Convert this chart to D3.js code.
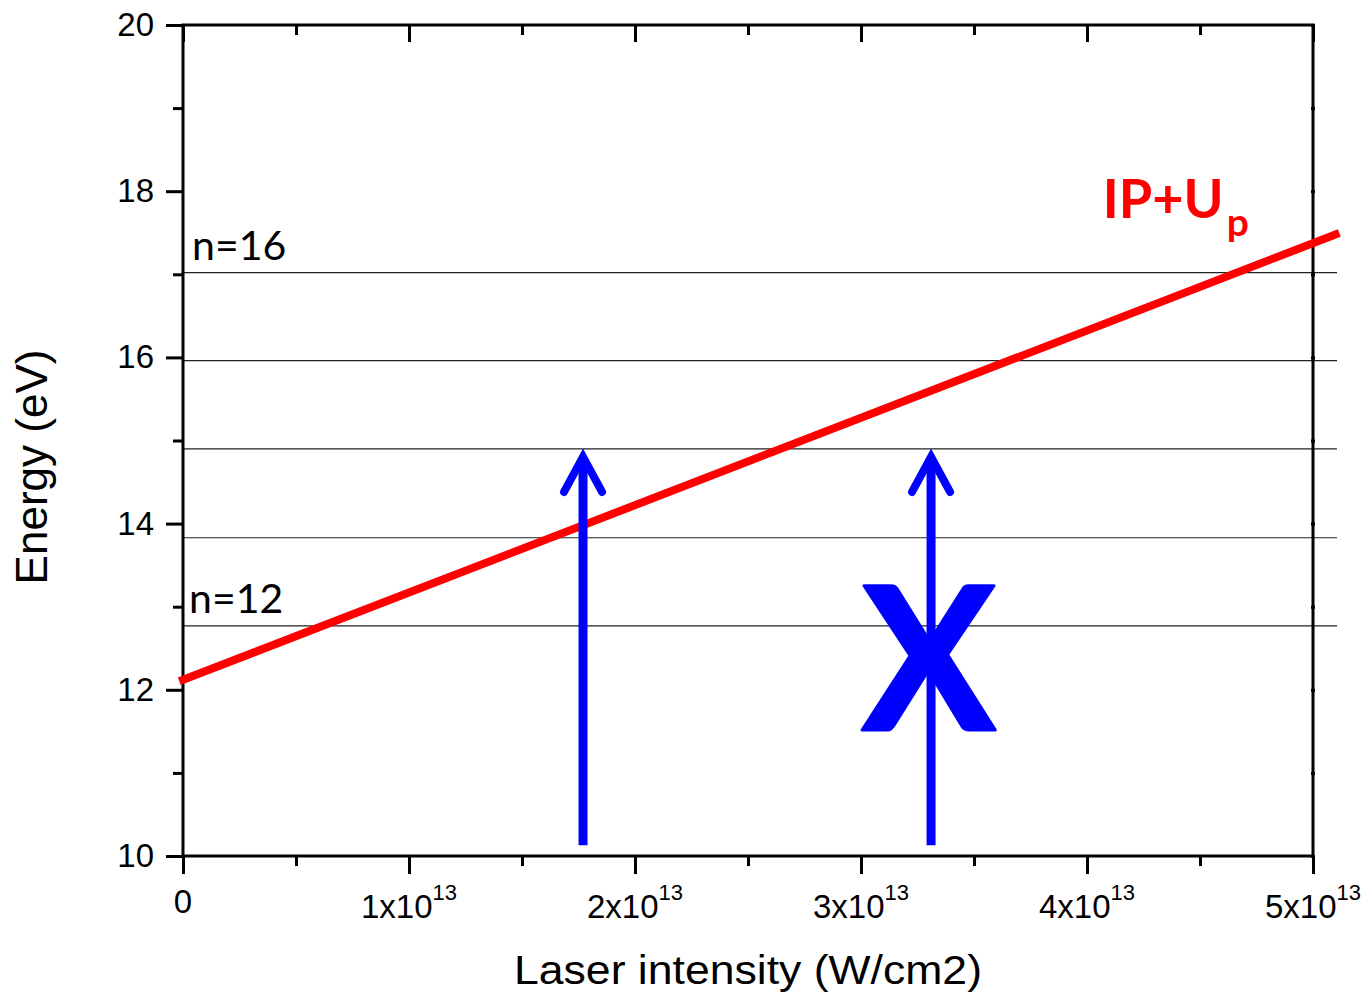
<!DOCTYPE html>
<html><head><meta charset="utf-8">
<script src="https://cdn.jsdelivr.net/npm/d3@7"></script>
<style>body{margin:0;background:#fff}svg{display:block}</style>
</head><body>
<svg id="chart" width="1370" height="1000"></svg>
<script>
// ---- data ----
const xMajorTicks = [0, 1e13, 2e13, 3e13, 4e13, 5e13];
const xMinorTicks = [0.5e13, 1.5e13, 2.5e13, 3.5e13, 4.5e13];
const xTickMantissa = ["0", "1", "2", "3", "4", "5"];
const xTickExponent = "13";
const yMajorTicks = [10, 12, 14, 16, 18, 20];
const yMinorTicks = [11, 13, 15, 17, 19];
const harmonicOrders = [12, 13, 14, 15, 16];
const harmonicEnergies = [12.77, 13.83, 14.90, 15.96, 17.02];
const harmonicLabelOrders = [12, 16];
const ipUpIntensity = [0, 5.1e13];
const ipUpEnergy = [12.12, 17.48];
const arrowIntensity = [1.77e13, 3.31e13];
const arrowEnergyFrom = 10.13;
const arrowEnergyTo = 14.85;
const blockedArrowIntensity = 3.30e13;
const blockedMarkEnergy = 11.52;
const ipUpLabelPos = [4.07e13, 17.68];

// ---- layout ----
const svg = d3.select("#chart");
const L = 183, T = 25, W = 1130, H = 831;
const x = d3.scaleLinear().domain([0, 5e13]).range([L, L + W]);
const y = d3.scaleLinear().domain([10, 20]).range([T + H, T]);
const axisFont = "'Liberation Sans', Arial, sans-serif";
const textFont = "Lato, 'Open Sans', sans-serif";

// harmonic lines
svg.append("g").selectAll("line").data(harmonicEnergies).join("line")
  .attr("x1", x(0)).attr("x2", x(0) + 1154)
  .attr("y1", d => y(d)).attr("y2", d => y(d))
  .attr("stroke", "#222").attr("stroke-width", 1.2);

// harmonic labels
svg.append("g").selectAll("text").data(harmonicLabelOrders).join("text")
  .attr("x", (d, i) => x(0) + (d === 16 ? 9 : 6))
  .attr("y", d => y(harmonicEnergies[harmonicOrders.indexOf(d)]) - 13)
  .attr("font-family", textFont).attr("font-size", 41).attr("fill", "#000")
  .text(d => "n=" + d);

// axes
function styleAxis(g) {
  g.select(".domain").remove();
  g.selectAll(".tick line").attr("stroke", "#000").attr("stroke-width", 3);
  g.selectAll(".tick text").remove();
}
svg.append("g").attr("transform", `translate(0,${T + H})`)
  .call(d3.axisBottom(x).tickValues(xMajorTicks).tickSize(18).tickFormat("")).call(styleAxis);
svg.append("g").attr("transform", `translate(0,${T + H})`)
  .call(d3.axisBottom(x).tickValues(xMinorTicks).tickSize(10).tickFormat("")).call(styleAxis);
svg.append("g").attr("transform", `translate(0,${T})`)
  .call(d3.axisBottom(x).tickValues(xMajorTicks).tickSize(17).tickFormat("")).call(styleAxis);
svg.append("g").attr("transform", `translate(0,${T})`)
  .call(d3.axisBottom(x).tickValues(xMinorTicks).tickSize(10).tickFormat("")).call(styleAxis);
svg.append("g").attr("transform", `translate(${L},0)`)
  .call(d3.axisLeft(y).tickValues(yMajorTicks).tickSize(17).tickFormat("")).call(styleAxis);
svg.append("g").attr("transform", `translate(${L},0)`)
  .call(d3.axisLeft(y).tickValues(yMinorTicks).tickSize(10).tickFormat("")).call(styleAxis);
svg.append("g").attr("transform", `translate(${L + W + 2},0)`)
  .call(d3.axisLeft(y).tickValues(yMajorTicks.concat(yMinorTicks)).tickSize(4).tickFormat("")).call(styleAxis);

// frame
svg.append("rect").attr("x", L).attr("y", T).attr("width", W).attr("height", H)
  .attr("fill", "none").attr("stroke", "#000").attr("stroke-width", 3);

// y tick labels
svg.append("g").selectAll("text").data(yMajorTicks).join("text")
  .attr("x", L - 29).attr("y", d => y(d) + 11)
  .attr("text-anchor", "end").attr("font-family", axisFont).attr("font-size", 33)
  .text(d => d);

// x tick labels
const xl = svg.append("g").selectAll("text").data(xMajorTicks).join("text")
  .attr("x", d => x(d)).attr("y", (d, i) => i === 0 ? T + H + 57 : T + H + 62)
  .attr("text-anchor", "middle").attr("font-family", axisFont).attr("font-size", 33);
xl.each(function (d, i) {
  const t = d3.select(this);
  if (i === 0) { t.text(xTickMantissa[i]); return; }
  t.append("tspan").text(xTickMantissa[i] + "x10");
  t.append("tspan").attr("dy", -18).attr("font-size", 22).text(xTickExponent);
});

// axis titles
svg.append("text").attr("x", 748).attr("y", 984)
  .attr("text-anchor", "middle").attr("font-family", axisFont).attr("font-size", 40)
  .attr("textLength", 468).attr("lengthAdjust", "spacingAndGlyphs")
  .text("Laser intensity (W/cm2)");
svg.append("text").attr("transform", "translate(47,467) rotate(-90)")
  .attr("text-anchor", "middle").attr("font-family", axisFont).attr("font-size", 44)
  .text("Energy (eV)");

// IP+Up line
const line = d3.line().x(d => x(d[0])).y(d => y(d[1]));
svg.append("path").datum(ipUpIntensity.map((v, i) => [v, ipUpEnergy[i]]))
  .attr("d", line).attr("fill", "none").attr("stroke", "#ff0000")
  .attr("stroke-width", 8).attr("stroke-linecap", "square");

// IP+Up label
const lab = svg.append("text").attr("x", x(ipUpLabelPos[0])).attr("y", y(ipUpLabelPos[1]))
  .attr("font-family", textFont).attr("font-weight", "bold").attr("font-size", 54)
  .attr("fill", "#ff0000");
lab.append("tspan").text("IP+U");
lab.append("tspan").attr("dx", 3).attr("dy", 18).attr("font-size", 39).text("p");

// arrows
const ag = svg.append("g").attr("stroke", "#0000ff").attr("fill", "none");
ag.selectAll("line").data(arrowIntensity).join("line")
  .attr("x1", d => x(d)).attr("x2", d => x(d))
  .attr("y1", y(arrowEnergyFrom)).attr("y2", y(arrowEnergyTo) + 6)
  .attr("stroke-width", 9);
ag.selectAll("path").data(arrowIntensity).join("path")
  .attr("d", d => `M${x(d) - 19},${y(arrowEnergyTo) + 39} L${x(d)},${y(arrowEnergyTo) + 4} L${x(d) + 19},${y(arrowEnergyTo) + 39}`)
  .attr("stroke-width", 8).attr("stroke-linecap", "round").attr("stroke-linejoin", "miter");

// blocked mark
svg.append("text").attr("x", x(blockedArrowIntensity)).attr("y", y(blockedMarkEnergy))
  .attr("text-anchor", "middle").attr("font-family", textFont).attr("font-weight", "bold")
  .attr("font-size", 200).attr("fill", "#0000ff")
  .attr("stroke", "#0000ff").attr("stroke-width", 3).attr("stroke-linejoin", "round")
  .text("X");
</script>
</body></html>
